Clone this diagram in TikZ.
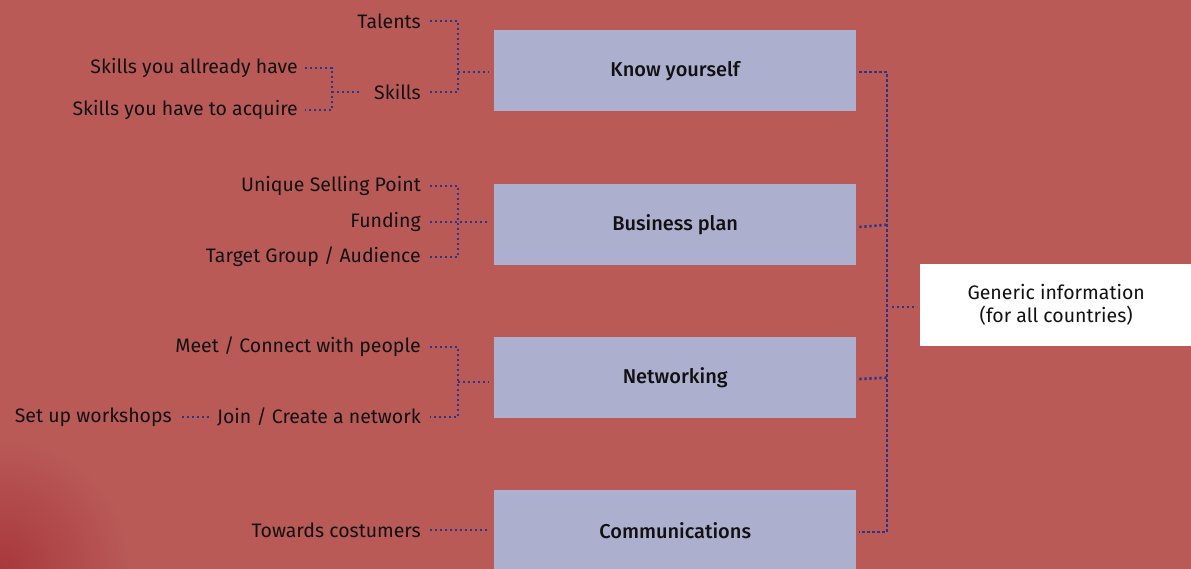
\documentclass[tikz,border=0pt]{standalone}
\usepackage{fontspec}
\setmainfont{Fira Sans}
\newfontfamily\medfont{Fira Sans Medium}
\definecolor{bgred}{HTML}{B95A57}
\definecolor{darkred}{HTML}{A8383C}
\definecolor{boxlav}{HTML}{ADAFCE}
\definecolor{navy}{HTML}{27358A}
\definecolor{txt}{HTML}{111111}
\begin{document}
\begin{tikzpicture}[x=1pt,y=-1pt,
  lbl/.style={anchor=east,inner sep=0pt,text=txt,font=\fontsize{19.5}{23}\selectfont},
  mainbox/.style={fill=boxlav,draw=none,minimum width=362pt,minimum height=81pt,inner sep=0pt,anchor=north west,text=txt,font=\medfont\fontsize{20}{23}\selectfont},
  dotline/.style={draw=navy,line width=2.6pt,dash pattern=on 2.2pt off 2.8pt}]
\useasboundingbox (0,0) rectangle (1191,568);
\fill[bgred] (-5,-5) rectangle (1196,573);
\begin{scope}
\clip (0,0) rectangle (1191,568);
\shade[inner color=darkred,outer color=bgred] (0,568) circle (130);
\end{scope}

% main boxes
\node[mainbox] (know) at (494,30) {Know yourself};
\node[mainbox] (biz) at (494,184) {Business plan};
\node[mainbox] (net) at (494,337) {Networking};
\node[mainbox,minimum height=80pt] (comm) at (494,490) {Communications};
\node[fill=white,inner sep=0pt,minimum width=272pt,minimum height=82pt,anchor=north west,align=center,text=txt,font=\fontsize{19.5}{23}\selectfont] (gen) at (920,264) {Generic information\\(for all countries)};

% labels
\node[lbl] (talents) at (421,21) {Talents};
\node[lbl] (skills) at (421,92) {Skills};
\node[lbl] (have) at (298,68) {Skills you allready have};
\node[lbl] (acq) at (298,110) {Skills you have to acquire};
\node[lbl] (usp) at (421,186) {Unique Selling Point};
\node[lbl] (fund) at (421,222) {Funding};
\node[lbl] (target) at (421,257) {Target Group / Audience};
\node[lbl] (meet) at (421,347) {Meet / Connect with people};
\node[lbl] (join) at (421,417) {Join / Create a network};
\node[lbl] (work) at (172,417) {Set up workshops};
\node[lbl] (tow) at (421,530) {Towards costumers};

% junctions
\coordinate (jk) at (458,72);
\coordinate (js) at (332,92);
\coordinate (jb) at (458,222);
\coordinate (jn) at (458,382);
\coordinate (jr) at (887,307);

% left connectors
\draw[dotline] ([xshift=9pt]talents.east) -| (jk) |- ([xshift=9pt]skills.east);
\draw[dotline] (jk) -- ([xshift=-5pt]jk -| know.west);
\draw[dotline] ([xshift=7pt]have.east) -| (js) |- ([xshift=7pt]acq.east);
\draw[dotline] (js) -- ([xshift=-12pt]skills.west);
\draw[dotline] ([xshift=9pt]usp.east) -| (jb) |- ([xshift=9pt]target.east);
\draw[dotline] ([xshift=9pt]fund.east) -- ([xshift=-6pt]jb -| biz.west);
\draw[dotline] ([xshift=9pt]meet.east) -| (jn) |- ([xshift=9pt]join.east);
\draw[dotline] (jn) -- ([xshift=-5pt]jn -| net.west);
\draw[dotline] ([xshift=10pt]work.east) -- ([xshift=-6pt]join.west);
\draw[dotline] ([xshift=9pt]tow.east) -- ([xshift=-6pt]tow.east -| comm.west);

% right connectors
\draw[dotline] ([xshift=3pt]know.east |- 0,72) -| (jr) |- ([xshift=3pt]comm.east |- 0,532);
\draw[dotline] ([xshift=3pt]biz.east |- 0,227) -- (biz.east -| jr);
\draw[dotline] ([xshift=3pt]net.east |- 0,379) -- (net.east -| jr);
\draw[dotline] ([xshift=5pt]jr) -- ([xshift=-3pt]gen.west |- jr);
\end{tikzpicture}
\end{document}
